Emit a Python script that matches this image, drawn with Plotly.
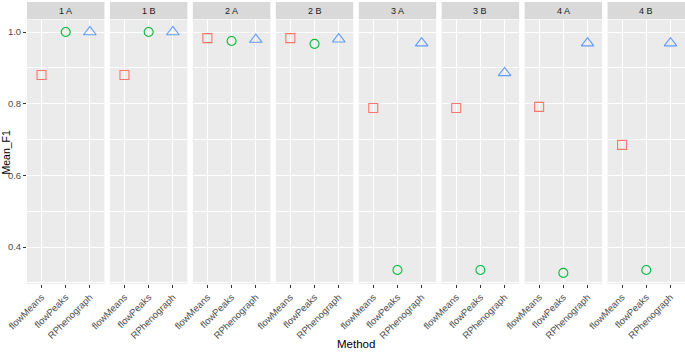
import plotly.graph_objects as go
from plotly.subplots import make_subplots

panels = ["1 A", "1 B", "2 A", "2 B", "3 A", "3 B", "4 A", "4 B"]
methods = ["flowMeans", "flowPeaks", "RPhenograph"]
flowMeans = [0.880, 0.880, 0.983, 0.983, 0.788, 0.788, 0.791, 0.685]
flowPeaks = [1.000, 1.000, 0.975, 0.967, 0.336, 0.336, 0.328, 0.336]
RPhenograph = [1.000, 1.000, 0.979, 0.980, 0.969, 0.886, 0.969, 0.969]
series = {"flowMeans": flowMeans, "flowPeaks": flowPeaks, "RPhenograph": RPhenograph}
colors = {"flowMeans": "#F8766D", "flowPeaks": "#00BA38", "RPhenograph": "#619CFF"}
symbols = {"flowMeans": "square-open", "flowPeaks": "circle-open", "RPhenograph": "triangle-up-open"}
sizes = {"flowMeans": 9, "flowPeaks": 9, "RPhenograph": 11}

W, H = 685, 353
ml, mr, mt, mb = 27, 0, 20, 69
pw = W - ml - mr
ph = H - mt - mb
gap = 5.5

fig = make_subplots(rows=1, cols=len(panels), shared_yaxes=True,
                    horizontal_spacing=gap / pw)

font = "Liberation Sans, Arial, sans-serif"
for i, p in enumerate(panels):
    c = i + 1
    for m in methods:
        fig.add_trace(go.Scatter(
            x=[m], y=[series[m][i]], mode="markers",
            marker=dict(symbol=symbols[m], size=sizes[m], color=colors[m],
                        line=dict(width=1.1, color=colors[m])),
            showlegend=False, hoverinfo="x+y"), row=1, col=c)
    xa = "x" if c == 1 else f"x{c}"
    fig.add_shape(type="rect", xref=f"{xa} domain", yref="paper",
                  x0=0, x1=1, y0=1.003, y1=1 + 18 / ph,
                  fillcolor="#D9D9D9", line=dict(width=0), layer="below")
    fig.add_annotation(text=p, xref=f"{xa} domain", yref="paper",
                       x=0.5, y=1 + 9.5 / ph, showarrow=False,
                       font=dict(size=9, color="#1A1A1A", family=font),
                       xanchor="center", yanchor="middle")
    fig.update_xaxes(row=1, col=c, type="category", categoryorder="array",
                     categoryarray=methods, range=[-0.6, 2.6],
                     showgrid=True, gridcolor="white", gridwidth=1.1,
                     tickangle=-45, ticks="outside", ticklen=3, tickwidth=1,
                     tickcolor="#333333",
                     tickfont=dict(size=9.5, color="#4D4D4D", family=font),
                     zeroline=False, showline=False)
    fig.update_yaxes(row=1, col=c, range=[0.297, 1.0335],
                     tickvals=[0.4, 0.6, 0.8, 1.0],
                     ticktext=["0.4", "0.6", "0.8", "1.0"],
                     showgrid=True, gridcolor="white", gridwidth=1.1,
                     minor=dict(tickvals=[0.3, 0.5, 0.7, 0.9], showgrid=True,
                                gridcolor="white", gridwidth=0.5, ticks=""),
                     ticks="outside" if c == 1 else "", ticklen=3, tickwidth=1,
                     tickcolor="#333333",
                     tickfont=dict(size=9.5, color="#4D4D4D", family=font),
                     zeroline=False, showline=False)

fig.add_annotation(text="Mean_F1", xref="paper", yref="paper",
                   x=-(ml - 5.5) / pw, y=0.5, textangle=-90, showarrow=False,
                   xanchor="center", yanchor="middle",
                   font=dict(size=10.5, color="black", family=font))

fig.add_annotation(text="Method", xref="paper", yref="paper",
                   x=0.5, y=-(344 - mt - ph) / ph, showarrow=False,
                   xanchor="center", yanchor="middle",
                   font=dict(size=11.5, color="black", family=font))

fig.update_layout(width=W, height=H, margin=dict(l=ml, r=mr, t=mt, b=mb),
                  paper_bgcolor="white", plot_bgcolor="#EBEBEB",
                  font=dict(family=font))
fig.write_html("out.html")
